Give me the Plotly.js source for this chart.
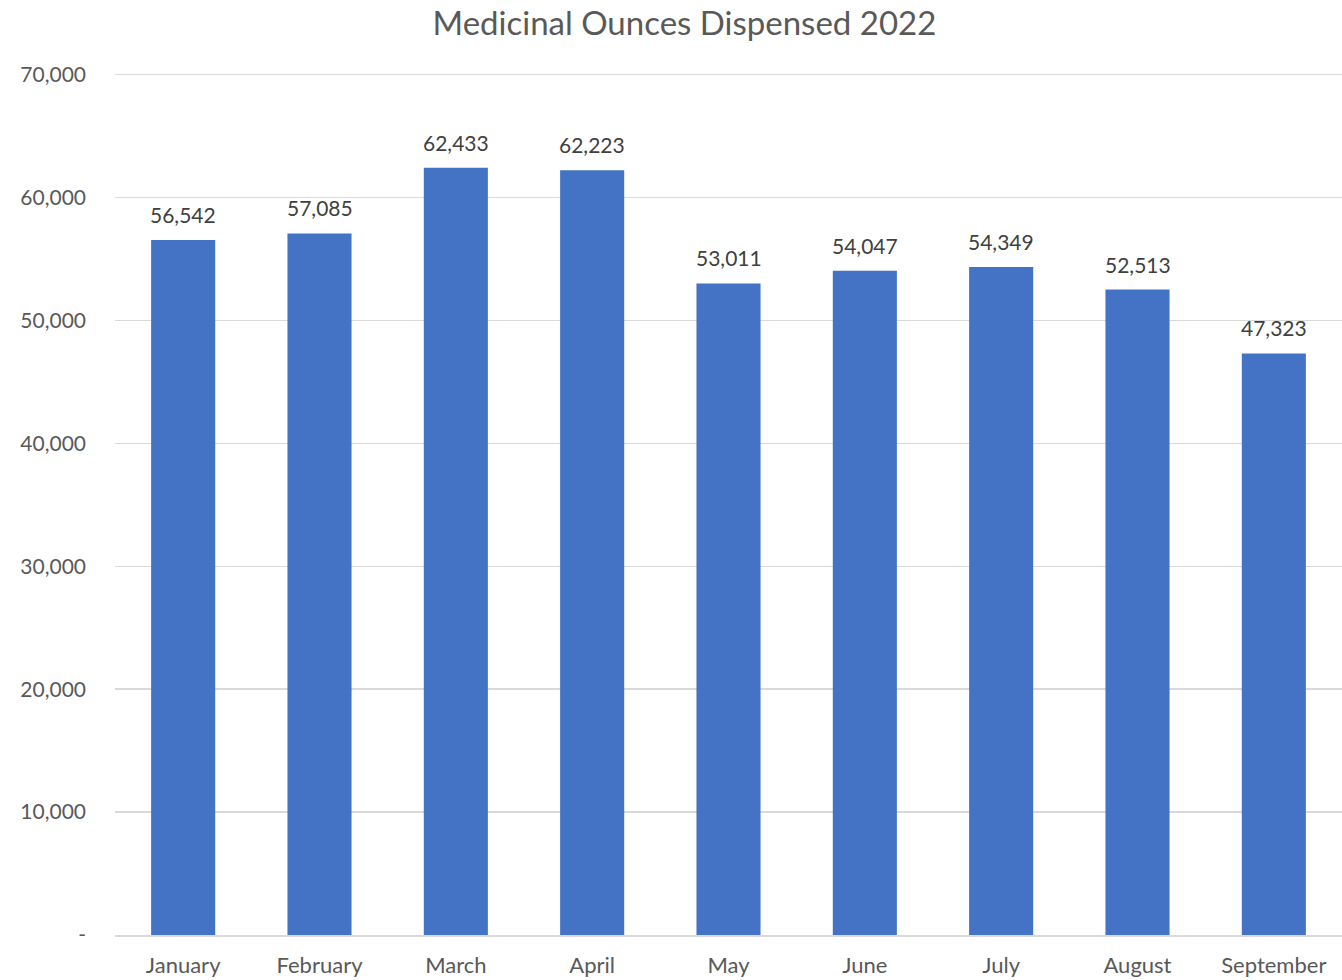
<!DOCTYPE html>
<html>
<head>
<meta charset="utf-8">
<script src="https://cdn.plot.ly/plotly-3.0.1.min.js"></script>
<style>html,body{margin:0;padding:0;background:#fff;}#chart{width:1342px;height:980px;}</style>
</head>
<body>
<div id="chart"></div>
<script>
const months = ["January","February","March","April","May","June","July","August","September"];
const ounces = [56542,57085,62433,62223,53011,54047,54349,52513,47323];
const tickValues = [0,10000,20000,30000,40000,50000,60000,70000];
const tickLabels = ["-","10,000","20,000","30,000","40,000","50,000","60,000","70,000"];

const fontFam = "Lato, 'Open Sans', sans-serif";
const trace = {
  type: "bar",
  x: months,
  y: ounces,
  marker: {color: "#4472C4"},
  hoverinfo: "x+y"
};
const labels = months.map((m, i) => ({
  x: m, y: ounces[i], xref: "x", yref: "y",
  text: ounces[i].toLocaleString("en-US"),
  showarrow: false, yanchor: "bottom", yshift: 11,
  font: {family: fontFam, size: 21, color: "#404040"}
}));
const layout = {
  width: 1342, height: 980,
  margin: {l: 115, r: 0, t: 71, b: 45},
  paper_bgcolor: "#fff", plot_bgcolor: "#fff",
  title: {text: "Medicinal Ounces Dispensed 2022", font: {family: fontFam, size: 33, color: "#595959"}, x: 0.51, xanchor: "center", y: 0.976, yanchor: "middle"},
  bargap: 0.53,
  showlegend: false,
  annotations: labels,
  xaxis: {
    showline: true, linecolor: "#d9d9d9", linewidth: 1.5,
    tickfont: {family: fontFam, size: 22, color: "#595959"},
    ticks: "", ticklabelstandoff: 10, fixedrange: true
  },
  yaxis: {
    range: [0, 70300],
    tickvals: tickValues, ticktext: tickLabels,
    tickfont: {family: fontFam, size: 21, color: "#595959"},
    gridcolor: "#d9d9d9", gridwidth: 1.5,
    zeroline: false, ticks: "", ticklabelstandoff: 28, fixedrange: true
  }
};
Plotly.newPlot("chart", [trace], layout, {displayModeBar: false, staticPlot: true});
</script>
</body>
</html>
